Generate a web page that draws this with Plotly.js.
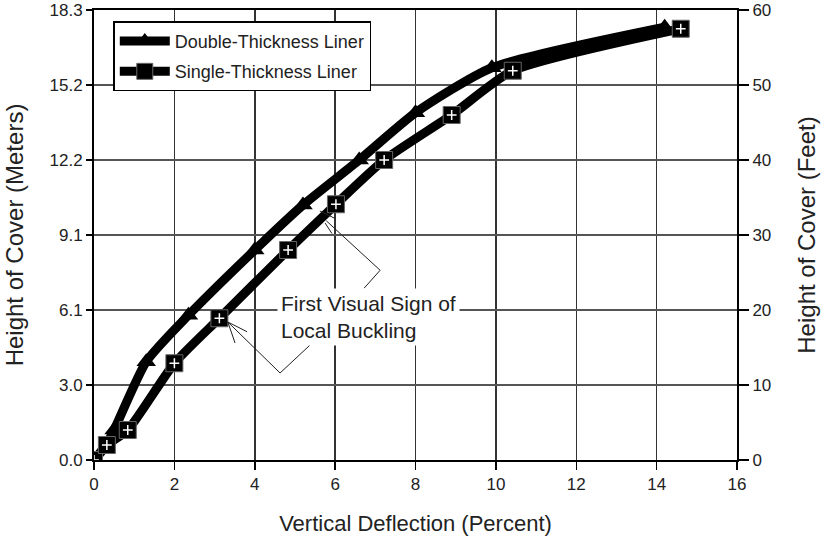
<!DOCTYPE html>
<html>
<head>
<meta charset="utf-8">
<script src="https://cdn.plot.ly/plotly-3.0.1.min.js"></script>
<style>html,body{margin:0;padding:0;background:#fff;}#chart{width:822px;height:538px;}</style>
</head>
<body>
<div id="chart"></div>
<script>
// Vertical deflection (percent) and height of cover (feet)
var doubleX = [0, 0.25, 0.5, 1.3, 2.35, 4.0, 5.2, 6.6, 8.0, 9.9, 14.2];
var doubleY = [0, 1.5, 4.0, 13.1, 19.3, 28.0, 34.0, 40.0, 46.3, 52.3, 57.7];
var singleX = [0, 0.32, 0.84, 2.0, 3.12, 4.83, 6.02, 7.22, 8.9, 10.42, 14.6];
var singleY = [0, 2.0, 4.0, 12.9, 18.9, 28.0, 34.1, 40.0, 46.0, 51.9, 57.5];

var feetTicks = [0, 10, 20, 30, 40, 50, 60];
var meterLabels = ['0.0', '3.0', '6.1', '9.1', '12.2', '15.2', '18.3'];
var feetLabels = ['0', '10', '20', '30', '40', '50', '60'];
var xTicks = [0, 2, 4, 6, 8, 10, 12, 14, 16];

// callout leader lines [x0, y0, x1, y1] in data units
var calloutLines = [
  [7.12, 25.3, 5.78, 31.9],
  [7.12, 25.3, 6.72, 22.9],
  [5.62, 33.2, 6.0, 32.2],
  [5.75, 31.6, 5.92, 30.2],
  [4.63, 11.6, 3.33, 18.4],
  [4.63, 11.6, 5.37, 15.3],
  [3.33, 18.4, 3.81, 17.1],
  [3.33, 18.4, 3.51, 15.6]
];

var font = 'Liberation Sans, Arial, Helvetica, sans-serif';

var traces = [
  {
    x: doubleX, y: doubleY, name: 'Double-Thickness Liner', type: 'scatter', mode: 'lines+markers',
    legendgroup: 'd',
    line: {color: '#000', width: 9, shape: 'spline', smoothing: 0.6},
    marker: {symbol: 'triangle-up', size: 17, color: '#000'}
  },
  {
    x: singleX, y: singleY, name: 'Single-Thickness Liner', type: 'scatter', mode: 'lines+markers',
    legendgroup: 's',
    line: {color: '#000', width: 9, shape: 'spline', smoothing: 0.6},
    marker: {symbol: 'square', size: 17, color: '#000', line: {color: '#666', width: 1}}
  },
  {
    x: singleX, y: singleY, type: 'scatter', mode: 'markers', showlegend: false, hoverinfo: 'skip',
    legendgroup: 's',
    marker: {symbol: 'cross-thin', size: 7, color: '#fff', line: {color: '#fff', width: 1.5}}
  },
  {
    x: [0, 16], y: [0, 60], yaxis: 'y2', type: 'scatter', mode: 'markers', showlegend: false,
    hoverinfo: 'skip', marker: {opacity: 0}
  }
];

var shapes = calloutLines.map(function (c) {
  return {type: 'line', xref: 'x', yref: 'y', x0: c[0], y0: c[1], x1: c[2], y1: c[3],
          line: {color: '#222', width: 1}};
});

var layout = {
  width: 822, height: 538,
  margin: {l: 94, r: 85, t: 10, b: 78},
  paper_bgcolor: '#fff', plot_bgcolor: '#fff',
  font: {family: font, color: '#222', size: 17},
  showlegend: true,
  legend: {
    x: 0.03, y: 0.975, xanchor: 'left', yanchor: 'top',
    bgcolor: '#fff', bordercolor: '#000', borderwidth: 1.5,
    font: {family: font, size: 18, color: '#222'}, tracegroupgap: 4, itemwidth: 50
  },
  xaxis: {
    range: [0, 16], tickvals: xTicks, ticks: 'outside', ticklen: 8, tickcolor: '#000', tickwidth: 1.5,
    showgrid: true, gridcolor: '#333', gridwidth: 1.5,
    showline: true, linecolor: '#000', linewidth: 2, mirror: true, zeroline: false,
    tickfont: {size: 17, color: '#222'},
    title: {text: 'Vertical Deflection (Percent)', font: {size: 22, color: '#222'}, standoff: 22}
  },
  yaxis: {
    range: [0, 60], tickvals: feetTicks, ticktext: meterLabels, ticks: 'outside', ticklen: 6,
    tickcolor: '#000', tickwidth: 1.5,
    showgrid: true, gridcolor: '#555', gridwidth: 1.5,
    showline: true, linecolor: '#000', linewidth: 2, mirror: true, zeroline: false,
    tickfont: {size: 17, color: '#222'},
    title: {text: 'Height of Cover (Meters)', font: {size: 24, color: '#222'}, standoff: 19}
  },
  yaxis2: {
    range: [0, 60], overlaying: 'y', side: 'right', tickvals: feetTicks, ticktext: feetLabels,
    ticks: 'outside', ticklen: 10, tickcolor: '#000', tickwidth: 1.5, showgrid: false, zeroline: false,
    showline: true, linecolor: '#000', linewidth: 2,
    tickfont: {size: 17, color: '#222'},
    title: {text: 'Height of Cover (Feet)', font: {size: 24, color: '#222'}, standoff: 28}
  },
  shapes: shapes,
  annotations: [{
    xref: 'x', yref: 'y', x: 4.55, y: 19.1, xanchor: 'left', yanchor: 'middle',
    text: 'First Visual Sign of<br>Local Buckling', showarrow: false, align: 'left',
    bgcolor: '#fff', borderpad: 3, font: {family: font, size: 21, color: '#222'}
  }]
};

Plotly.newPlot('chart', traces, layout, {displayModeBar: false, staticPlot: true});
</script>
</body>
</html>
